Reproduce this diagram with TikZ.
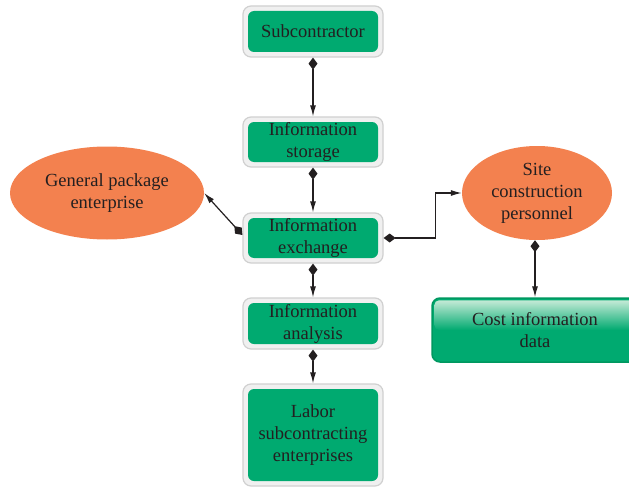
\documentclass[tikz,border=0pt]{standalone}
\usepackage{fontspec}
\setmainfont{Liberation Serif}
\usetikzlibrary{arrows.meta,shapes.geometric}
\definecolor{boxgreen}{RGB}{0,170,112}
\definecolor{darkgreen}{RGB}{0,152,96}
\definecolor{mint}{RGB}{196,234,214}
\definecolor{blobor}{RGB}{243,129,79}
\definecolor{framegray}{RGB}{240,240,240}
\definecolor{frameline}{RGB}{208,208,208}
\definecolor{ink}{RGB}{35,31,32}

\begin{document}
\begin{tikzpicture}[x=1pt,y=-1pt,
  frame/.style={draw=frameline, fill=framegray, line width=1.2pt,
    rounded corners=8pt, minimum width=140pt, inner sep=0pt},
  core/.style={fill=boxgreen, rounded corners=6pt, minimum width=130pt,
    inner sep=0pt, text=ink, align=center, font=\fontsize{18.5}{22}\selectfont},
  blob/.style={ellipse, fill=blobor, inner sep=0pt, text=ink, align=center,
    font=\fontsize{18.5}{22}\selectfont},
  link/.style={draw=ink, line width=1.2pt,
    {Diamond[length=12pt,width=9pt]}-{Latex[length=11pt,width=6pt]}},
]
\clip (0,0) rectangle (629,487);

% central column of framed boxes
\node[frame, minimum height=51pt] (sub) at (313,31.5) {};
\node[core, minimum height=41pt] (subT) at (sub.center) {Subcontractor};

\node[frame, minimum height=50pt] (sto) at (313,142) {};
\node[core, minimum height=40pt] (stoT) at (sto.center) {Information\\storage};

\node[frame, minimum height=50pt] (exch) at (313,238) {};
\node[core, minimum height=40pt] (exchT) at (exch.center) {Information\\exchange};

\node[frame, minimum height=51pt] (ana) at (313,323.5) {};
\node[core, minimum height=41pt] (anaT) at (ana.center) {Information\\analysis};

\node[frame, minimum height=102pt] (lab) at (313,435) {};
\node[core, minimum height=92pt] (labT) at (lab.center) {Labor\\subcontracting\\enterprises};

% side parties
\node[blob, minimum width=194pt, minimum height=93pt] (gen) at (107,193) {General package\\enterprise};
\node[blob, minimum width=150pt, minimum height=94pt] (site) at (537,193) {Site\\construction\\personnel};

% data store
\node[draw=darkgreen, fill=boxgreen, line width=1.5pt, rounded corners=8pt,
  minimum width=206pt, minimum height=64pt, inner sep=0pt] (cost) at (535,330) {};
\shade[top color=mint, bottom color=boxgreen, rounded corners=5pt]
  ([xshift=3pt,yshift=-3pt]cost.north west) rectangle ([xshift=-3pt]cost.east);
\node[text=ink, align=center, font=\fontsize{18.5}{22}\selectfont] (costT)
  at (cost.center) {Cost information\\data};

% connectors
\draw[link] (sub) -- (sto);
\draw[link] (sto) -- (exch);
\draw[link] (exch) -- (ana);
\draw[link] (ana) -- (lab);
\draw[link] ([yshift=3pt]exch.west) -- (gen.east);
\draw[link] (exch.east) -- ++(52,0) |- (site.west);
\draw[link] ([xshift=-2pt]site.south) -- ([xshift=-2pt]site.south |- cost.north);
\end{tikzpicture}
\end{document}
